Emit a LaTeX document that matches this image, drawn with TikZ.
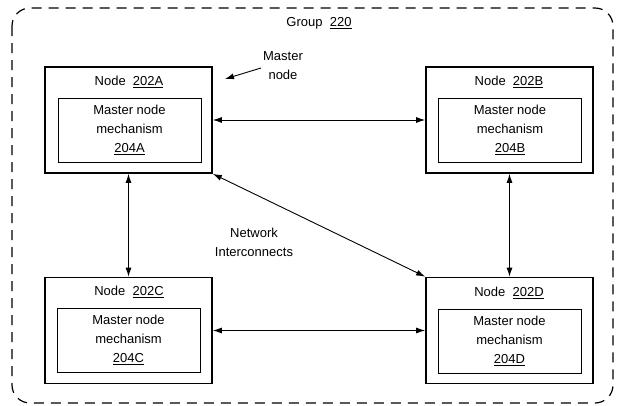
\documentclass[tikz,border=0pt]{standalone}
\usepackage{fontspec}
\setmainfont{Liberation Sans}
\usepackage{tikz}
\usetikzlibrary{arrows.meta,positioning}

\tikzset{
  nodebox/.style={draw, line width=1.7pt, minimum width=167pt, minimum height=106pt},
  mechbox/.style={draw, line width=0.7pt, minimum width=143pt, minimum height=64pt, align=center},
  link/.style={{Latex[length=9pt,width=6pt]}-{Latex[length=9pt,width=6pt]}, line width=0.9pt},
}

\begin{document}
\begin{tikzpicture}[x=1pt,y=-1pt,
    every node/.style={font=\fontsize{13}{19}\selectfont, inner sep=0pt}]
    \useasboundingbox (0,0) rectangle (619,405);

    % Group
    \draw[dashed, dash pattern=on 10pt off 7pt, line width=1.2pt, rounded corners=18pt]
        (12,8) rectangle (613,403);
    \node (grouplabel) at (319,23) {Group\ \ \underline{220}};

    % Node A
    \node[nodebox] (A) at (128.5,120) {};
    \node (Atitle) at (129,82) {Node\ \ \underline{202A}};
    \node[mechbox] (Amech) at (129.5,130) {Master node\\mechanism\\\underline{204A}};

    % Node B
    \node[nodebox] (B) at (509.5,120) {};
    \node (Btitle) at (509,82) {Node\ \ \underline{202B}};
    \node[mechbox] (Bmech) at (510,130) {Master node\\mechanism\\\underline{204B}};

    % Node C
    \node[nodebox] (C) at (128.5,330.5) {};
    \node (Ctitle) at (129,292) {Node\ \ \underline{202C}};
    \node[mechbox] (Cmech) at (128.5,340) {Master node\\mechanism\\\underline{204C}};

    % Node D
    \node[nodebox] (D) at (509.5,330.5) {};
    \node (Dtitle) at (509,293) {Node\ \ \underline{202D}};
    \node[mechbox] (Dmech) at (509.5,341) {Master node\\mechanism\\\underline{204D}};

    % Master node label
    \node[align=center] (mlabel) at (283,66) {Master\\node};
    \coordinate (mtip) at (225,79);
    \draw[-{Latex[length=9pt,width=6pt]}, line width=0.9pt] (mlabel.west) ++(-2,2) -- (mtip);

    % Network interconnects
    \node[align=center] (netlabel) at (254,242) {Network\\Interconnects};
    \draw[link] (A.east) -- (B.west);
    \draw[link] (A.south) -- (C.north);
    \draw[link] (B.south) -- (D.north);
    \draw[link] (C.east) -- (D.west);
    \draw[link] (A.south east) -- (D.north west);
\end{tikzpicture}
\end{document}
